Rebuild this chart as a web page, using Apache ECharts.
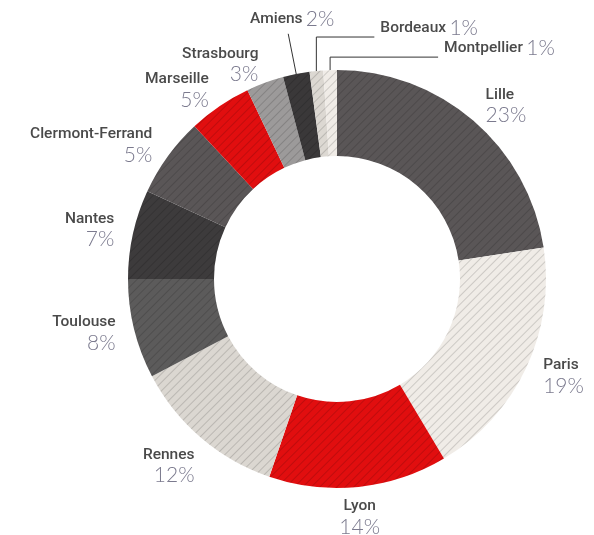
<!DOCTYPE html>
<html>
<head>
<meta charset="utf-8">
<script src="https://cdn.jsdelivr.net/npm/echarts@6/dist/echarts.min.js"></script>
<style>
html, body { margin: 0; padding: 0; background: #fff; }
#main { width: 594px; height: 535px; }
</style>
</head>
<body>
<div id="main"></div>
<script>
var cities = ['Lille', 'Paris', 'Lyon', 'Rennes', 'Toulouse', 'Nantes', 'Clermont-Ferrand',
    'Marseille', 'Strasbourg', 'Amiens', 'Bordeaux', 'Montpellier'];
// percentages as printed on the chart
var shares = [23, 19, 14, 12, 8, 7, 5, 5, 3, 2, 1, 1];
// slice sizes as drawn (measured off the arcs, they differ a bit from the printed values)
var arcs = [22.6, 18.85, 13.8, 12.05, 7.7, 6.9, 6.15, 4.9, 2.9, 2.05, 1.05, 1.05];
var colors = ['#5a5657', '#f0ece7', '#e10e0f', '#dbd7d1', '#5c5b5b', '#3d3b3c', '#5a5657',
    '#e10e0f', '#9c9a9a', '#3a3839', '#dcd8d2', '#f0ece7'];
// small slices at the top get a leader line: [rise] (radial) or [rise, run] (elbow)
var leaders = { 'Amiens': [41], 'Bordeaux': [34, 58], 'Montpellier': [13, 108] };

var cx = 337, cy = 279, r0 = 123, r1 = 209;

var total = arcs.reduce(function (a, b) { return a + b; }, 0);
var mids = [];
var acc = 0;
arcs.forEach(function (v) {
    mids.push((acc + v / 2) / total * Math.PI * 2);
    acc += v;
});

function hatch() {
    return {
        symbol: 'rect',
        dashArrayX: [1, 0],
        dashArrayY: [1, 5],
        rotation: -Math.PI / 4,
        color: 'rgba(0,0,0,0.15)'
    };
}

function placeLabel(p) {
    var i = p.dataIndex, a = mids[i];
    var s = Math.sin(a), c = Math.cos(a);
    var ld = leaders[cities[i]];
    if (ld) {
        var x0 = cx + r1 * s, y0 = cy - r1 * c;
        if (ld.length === 1) {
            var x1 = cx + (r1 + ld[0]) * s, y1 = cy - (r1 + ld[0]) * c;
            return { x: x1 + 4, y: y1 - 4, align: 'center', verticalAlign: 'bottom',
                labelLinePoints: [[x0, y0], [x1, y1]] };
        }
        var ye = y0 - ld[0], xe = x0 + ld[1];
        return { x: xe + 6, y: ye + 2, align: 'left', verticalAlign: 'bottom',
            labelLinePoints: [[x0, y0], [x0, ye], [xe, ye]] };
    }
    var top = c < -0.6;
    var rr = top ? 219 : 228;
    return {
        x: cx + rr * s,
        y: cy - rr * c,
        align: Math.abs(s) < 0.3 ? 'center' : (s > 0 ? 'left' : 'right'),
        verticalAlign: top ? 'top' : 'middle'
    };
}

var data = cities.map(function (name, i) {
    var item = {
        name: name,
        value: arcs[i],
        itemStyle: { color: colors[i], decal: hatch() }
    };
    if (leaders[name]) {
        item.label = { formatter: '{n|' + name + '} {p|' + shares[i] + '%}' };
        item.labelLine = { show: true };
    }
    return item;
});

var myChart = echarts.init(document.getElementById('main'));
var option = {
    backgroundColor: '#fff',
    animation: false,
    series: [{
        type: 'pie',
        center: [cx, cy],
        radius: [r0, r1],
        startAngle: 90,
        clockwise: true,
        avoidLabelOverlap: false,
        silent: true,
        itemStyle: { borderWidth: 0 },
        label: {
            show: true,
            position: 'outside',
            formatter: function (p) {
                return '{n|' + p.name + '}\n{p|' + shares[p.dataIndex] + '%}';
            },
            rich: {
                n: { fontFamily: 'Roboto', fontSize: 15.5, fontWeight: 500, color: '#4a4a4a', lineHeight: 19 },
                p: { fontFamily: 'Lato', fontSize: 21, fontWeight: 300, color: '#7b7a8e', lineHeight: 22 }
            }
        },
        labelLine: { show: false, lineStyle: { color: '#333', width: 1 } },
        labelLayout: placeLabel,
        data: data
    }]
};
myChart.setOption(option);
</script>
</body>
</html>
